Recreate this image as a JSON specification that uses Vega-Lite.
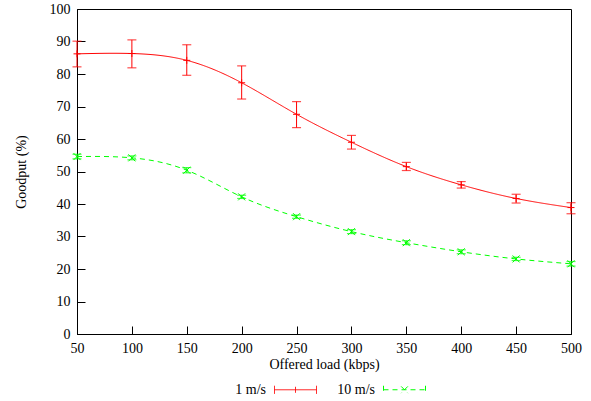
{
  "$schema": "https://vega.github.io/schema/vega-lite/v6.json",
  "width": 494,
  "height": 325,
  "autosize": {"type": "none"},
  "padding": {"left": 77, "top": 9, "right": 20, "bottom": 67},
  "background": "white",
  "config": {
    "font": "Liberation Serif",
    "view": {"stroke": "black", "strokeWidth": 1},
    "axis": {
      "grid": false,
      "domainColor": "black",
      "tickColor": "black",
      "labelColor": "black",
      "titleColor": "black",
      "labelFont": "Liberation Serif",
      "titleFont": "Liberation Serif",
      "labelFontSize": 14,
      "titleFontSize": 14,
      "titleFontWeight": "normal",
      "tickSize": -8,
      "labelPadding": 15,
      "labelFlush": false,
      "labelOverlap": false
    },
    "legend": {"labelFont": "Liberation Serif", "labelFontSize": 14, "labelColor": "black"}
  },
  "data": {
    "values": [
      {"series": "1 m/s", "x": 50, "y": 86.2, "lo": 82.2, "hi": 90.1},
      {"series": "1 m/s", "x": 100, "y": 86.3, "lo": 81.9, "hi": 90.5},
      {"series": "1 m/s", "x": 150, "y": 84.2, "lo": 79.6, "hi": 89.0},
      {"series": "1 m/s", "x": 200, "y": 77.3, "lo": 72.3, "hi": 82.5},
      {"series": "1 m/s", "x": 250, "y": 67.6, "lo": 63.5, "hi": 71.5},
      {"series": "1 m/s", "x": 300, "y": 59.0, "lo": 56.9, "hi": 61.1},
      {"series": "1 m/s", "x": 350, "y": 51.5, "lo": 50.3, "hi": 52.8},
      {"series": "1 m/s", "x": 400, "y": 45.9, "lo": 44.9, "hi": 46.9},
      {"series": "1 m/s", "x": 450, "y": 41.7, "lo": 40.3, "hi": 43.0},
      {"series": "1 m/s", "x": 500, "y": 38.9, "lo": 37.0, "hi": 40.4},
      {"series": "10 m/s", "x": 50, "y": 54.6, "lo": 53.9, "hi": 55.3},
      {"series": "10 m/s", "x": 100, "y": 54.2, "lo": 53.6, "hi": 54.8},
      {"series": "10 m/s", "x": 150, "y": 50.4, "lo": 49.6, "hi": 51.2},
      {"series": "10 m/s", "x": 200, "y": 42.2, "lo": 41.7, "hi": 42.7},
      {"series": "10 m/s", "x": 250, "y": 36.1, "lo": 35.6, "hi": 36.6},
      {"series": "10 m/s", "x": 300, "y": 31.5, "lo": 30.9, "hi": 32.1},
      {"series": "10 m/s", "x": 350, "y": 28.1, "lo": 27.5, "hi": 28.7},
      {"series": "10 m/s", "x": 400, "y": 25.3, "lo": 24.7, "hi": 25.9},
      {"series": "10 m/s", "x": 450, "y": 23.1, "lo": 22.6, "hi": 23.6},
      {"series": "10 m/s", "x": 500, "y": 21.6, "lo": 20.9, "hi": 22.3}
    ]
  },
  "encoding": {
    "x": {
      "field": "x", "type": "quantitative",
      "scale": {"domain": [50, 500], "nice": false, "zero": false},
      "axis": {"values": [50, 100, 150, 200, 250, 300, 350, 400, 450, 500], "title": "Offered load (kbps)", "titlePadding": 2, "labelFont": "Liberation Serif", "labelFlush": false}
    },
    "y": {
      "field": "y", "type": "quantitative",
      "scale": {"domain": [0, 100], "nice": false},
      "axis": {"values": [0, 10, 20, 30, 40, 50, 60, 70, 80, 90, 100], "title": "Goodput (%)", "titlePadding": 21, "labelFont": "Liberation Serif", "labelFlush": false}
    }
  },
  "layer": [
    {
      "mark": {"type": "line", "interpolate": "natural", "strokeWidth": 1},
      "encoding": {
        "color": {
          "field": "series", "type": "nominal",
          "scale": {"domain": ["1 m/s", "10 m/s"], "range": ["#ff0000", "#00ff00"]},
          "legend": {
            "title": null,
            "orient": "none",
            "direction": "horizontal",
            "legendX": 197,
            "legendY": 359,
            "columnPadding": 18,
            "symbolSize": 1764,
            "symbolStrokeWidth": 1,
            "encode": {
              "symbols": {"update": {
                "shape": {"signal": "datum.value == '1 m/s' ? 'M-1,0L1,0M-1,-0.19L-1,0.19M1,-0.19L1,0.19M0,-0.14L0,0.14' : 'M-1,-0.19L-1,0.19M1,-0.19L1,0.19M-1,0L1,0M-0.16,-0.16L0.16,0.16M0.16,-0.16L-0.16,0.16'"},
                "size": {"value": 1764},
                "fill": {"value": "transparent"},
                "opacity": {"value": 1}
              }},
              "labels": {"update": {"x": {"value": -8}, "align": {"value": "right"}}}
            }
          }
        },
        "strokeDash": {
          "field": "series", "type": "nominal",
          "scale": {"domain": ["1 m/s", "10 m/s"], "range": [[1, 0], [5, 4]]},
          "legend": null
        }
      }
    },
    {
      "mark": {"type": "rule", "strokeWidth": 1},
      "encoding": {
        "y": {"field": "lo", "type": "quantitative"},
        "y2": {"field": "hi"},
        "color": {"field": "series", "type": "nominal", "legend": null}
      }
    },
    {
      "mark": {"type": "tick", "orient": "horizontal", "size": 9, "thickness": 1.2},
      "encoding": {
        "y": {"field": "lo", "type": "quantitative"},
        "color": {"field": "series", "type": "nominal", "legend": null}
      }
    },
    {
      "mark": {"type": "tick", "orient": "horizontal", "size": 9, "thickness": 1.2},
      "encoding": {
        "y": {"field": "hi", "type": "quantitative"},
        "color": {"field": "series", "type": "nominal", "legend": null}
      }
    },
    {
      "transform": [{"filter": "datum.series == '1 m/s'"}],
      "mark": {"type": "point", "filled": false, "size": 49, "strokeWidth": 1, "opacity": 1, "shape": "M-1,0L1,0M0,-1L0,1"},
      "encoding": {
        "color": {"field": "series", "type": "nominal", "legend": null}
      }
    },
    {
      "transform": [{"filter": "datum.series == '10 m/s'"}],
      "mark": {"type": "point", "filled": false, "size": 49, "strokeWidth": 1, "opacity": 1, "shape": "M-1,-1L1,1M1,-1L-1,1"},
      "encoding": {
        "color": {"field": "series", "type": "nominal", "legend": null}
      }
    }
  ]
}
